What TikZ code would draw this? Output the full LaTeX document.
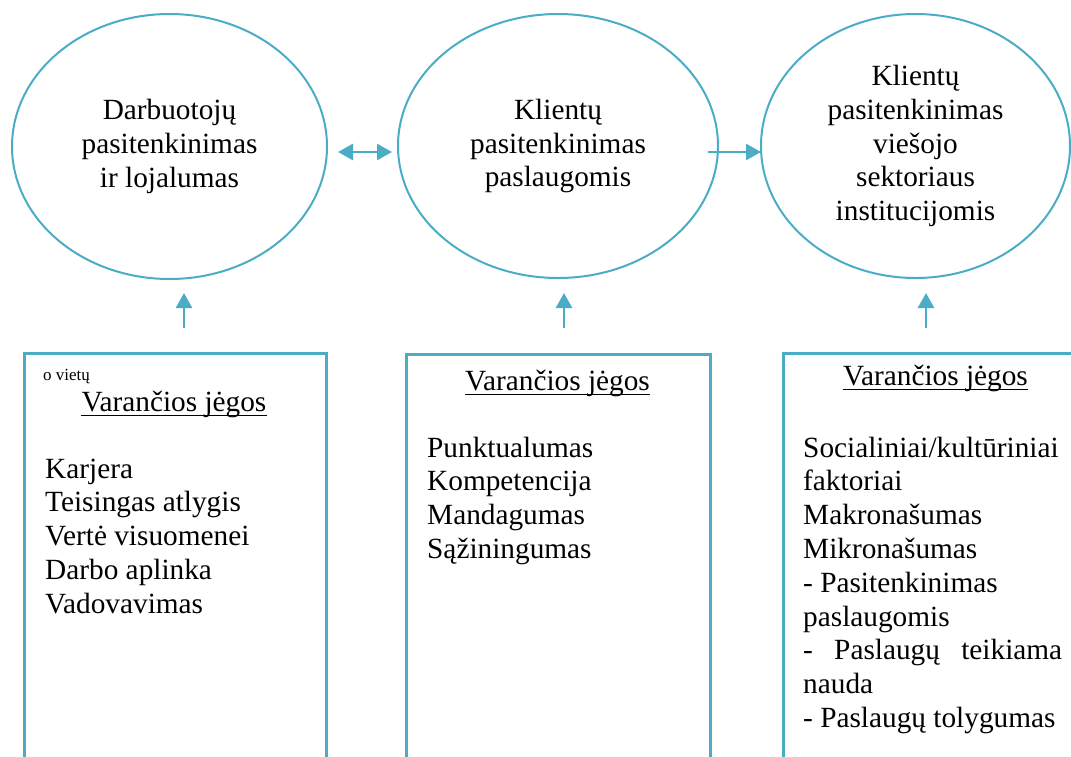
\documentclass[tikz,border=0pt]{standalone}
\usepackage{fontspec}
\setmainfont{Liberation Serif}
\usetikzlibrary{shapes.geometric,arrows.meta}
\definecolor{accent}{HTML}{4BACC6}
\newcommand\mainsize{\fontsize{29.3}{33.8}\selectfont}
\newcommand\smallnote{\fontsize{17}{20}\selectfont}
\begin{document}
\begin{tikzpicture}[x=1pt,y=-1pt,
  bubble/.style={ellipse,draw=accent,line width=2pt,inner sep=0pt,align=center,font=\mainsize},
  panel/.style={rectangle,draw=accent,line width=3pt,anchor=north west,inner sep=0pt},
  heading/.style={anchor=base,inner sep=0pt,font=\mainsize},
  item/.style={anchor=base west,inner sep=0pt,font=\mainsize},
  link/.style={draw=accent,line width=2.6pt,-{Triangle[width=16pt,length=15pt]}},
  biglink/.style={draw=accent,line width=2.6pt,{Triangle[width=16pt,length=15pt]}-{Triangle[width=16pt,length=15pt]}},
  uline/.style={line width=1.6pt}]
\clip (0,0) rectangle (1071,756);

% the three satisfaction bubbles
\node[bubble,minimum width=315pt,minimum height=265pt] (e1) at (169.5,146.5)
  {Darbuotojų\\pasitenkinimas\\ir lojalumas};
\node[bubble,minimum width=320pt,minimum height=264pt] (e2) at (558,146)
  {Klientų\\pasitenkinimas\\paslaugomis};
\node[bubble,minimum width=309pt,minimum height=264pt] (e3) at (915.5,146)
  {Klientų\\pasitenkinimas\\viešojo\\sektoriaus\\institucijomis};

% links between the bubbles
\coordinate (d1) at (338,152);
\coordinate (d2) at (392,152);
\draw[biglink] (d1) -- (d2);
\coordinate (r1) at (708,152);
\coordinate (r2) at (761,152);
\draw[link] (r1) -- (r2);

% panels of driving forces (open at the bottom)
\node[panel,minimum width=302pt,minimum height=440pt] (b1) at (23,352) {};
\node[panel,minimum width=304pt,minimum height=440pt] (b2) at (405,353) {};
\node[panel,minimum width=310pt,minimum height=440pt] (b3) at (782,352) {};

% arrows from panels up to bubbles
\coordinate (u1b) at (184,328); \coordinate (u1t) at (184,293);
\coordinate (u2b) at (564,328); \coordinate (u2t) at (564,293);
\coordinate (u3b) at (926,328); \coordinate (u3t) at (926,293);
\draw[link] (u1b) -- (u1t);
\draw[link] (u2b) -- (u2t);
\draw[link] (u3b) -- (u3t);

% first panel
\node[anchor=base west,inner sep=0pt,font=\smallnote] (n1) at (43,380) {o vietų};
\node[heading] (h1) at (174,411) {Varančios jėgos};
\draw[uline] ([yshift=-4.5pt]h1.base west) -- ([yshift=-4.5pt]h1.base east);
\foreach \t [count=\i from 0] in {Karjera,Teisingas atlygis,Vertė visuomenei,Darbo aplinka,Vadovavimas}
  \node[item] (p1l\i) at (45,478+33.8*\i) {\t};

% second panel
\node[heading] (h2) at (557.5,390) {Varančios jėgos};
\draw[uline] ([yshift=-4.5pt]h2.base west) -- ([yshift=-4.5pt]h2.base east);
\foreach \t [count=\i from 0] in {Punktualumas,Kompetencija,Mandagumas,Sąžiningumas}
  \node[item] (p2l\i) at (427,457+33.8*\i) {\t};

% third panel
\node[heading] (h3) at (935.5,385) {Varančios jėgos};
\draw[uline] ([yshift=-4.5pt]h3.base west) -- ([yshift=-4.5pt]h3.base east);
\foreach \t [count=\i from 0] in {Socialiniai/kultūriniai,faktoriai,Makronašumas,Mikronašumas,- Pasitenkinimas,paslaugomis,{\makebox[259pt][s]{- Paslaugų teikiama}},nauda,- Paslaugų tolygumas}
  \node[item] (p3l\i) at (803,457+33.8*\i) {\t};
\end{tikzpicture}
\end{document}
